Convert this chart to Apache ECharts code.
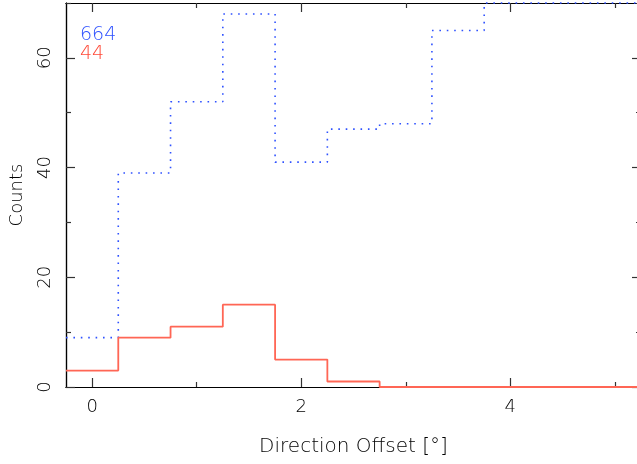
<!DOCTYPE html>
<html>
<head>
<meta charset="utf-8">
<script src="https://cdn.jsdelivr.net/npm/echarts@6/dist/echarts.min.js"></script>
<style>
html, body { margin: 0; padding: 0; background: #fff; }
#chart { width: 637px; height: 464px; }
</style>
</head>
<body>
<div id="chart"></div>
<script>
// left edges of the 0.5-wide bins, the last edge closes the histogram
const binEdges = [-0.25, 0.25, 0.75, 1.25, 1.75, 2.25, 2.75, 3.25, 3.75, 4.25, 4.75, 5.25];
const allCounts = [9, 39, 52, 68, 41, 47, 48, 65, 70, 70, 70];
const selCounts = [3, 9, 11, 15, 5, 1, 0, 0, 0, 0, 0];
const totals = ['664', '44'];
const xMajor = [0, 2, 4];
const xMinor = [1, 3, 5];
const yMajor = [0, 20, 40, 60];
const yMinor = [10, 30, 50, 70];

const blue = '#2f52ff';
const red = '#ff4a38';
const font = 'DejaVu Sans';
const textColor = '#000';

function steps(counts) {
    let pts = counts.map((c, i) => [binEdges[i], c]);
    pts.push([binEdges[binEdges.length - 1], counts[counts.length - 1]]);
    return pts;
}

// one axis = frame line + a set of inward ticks
function axis(pos, range, ticks, len, extra) {
    return Object.assign({
        type: 'value',
        position: pos,
        min: range[0],
        max: range[1],
        axisLine: { show: true, onZero: false, lineStyle: { color: '#000', width: 1.2 } },
        axisTick: { show: true, inside: true, length: len, customValues: ticks, lineStyle: { color: '#333', width: 1.2 } },
        axisLabel: { show: false },
        splitLine: { show: false }
    }, extra || {});
}

const xRange = [-0.25, 5.25];
const yRange = [0, 70];

let chart = echarts.init(document.getElementById('chart'));
chart.setOption({
    animation: false,
    grid: { left: 66, right: -4, top: 3, bottom: 77, containLabel: false, outerBoundsMode: 'none' },
    xAxis: [
        axis('bottom', xRange, xMajor, 9, {
            name: 'Direction Offset [°]',
            nameLocation: 'middle',
            nameGap: 50,
            nameTextStyle: { fontFamily: font, fontSize: 20, fontWeight: 200, color: textColor },
            axisLabel: { show: true, customValues: xMajor, fontFamily: font, fontSize: 18, fontWeight: 200, color: textColor, margin: 11 }
        }),
        axis('bottom', xRange, xMinor, 5),
        axis('top', xRange, xMajor, 9),
        axis('top', xRange, xMinor, 5)
    ],
    yAxis: [
        axis('left', yRange, yMajor, 9, {
            name: 'Counts',
            nameLocation: 'middle',
            nameRotate: 90,
            nameGap: 40,
            nameTextStyle: { fontFamily: font, fontSize: 18, fontWeight: 200, color: textColor },
            axisLabel: { show: true, customValues: yMajor, rotate: 90, fontFamily: font, fontSize: 18, fontWeight: 200, color: textColor, margin: 12 }
        }),
        axis('left', yRange, yMinor, 5),
        axis('right', yRange, yMajor, 9),
        axis('right', yRange, yMinor, 5)
    ],
    series: [
        {
            type: 'line',
            step: 'end',
            symbol: 'none',
            clip: false,
            data: steps(allCounts),
            lineStyle: { color: blue, width: 1.6, type: [1.6, 5.8] }
        },
        {
            type: 'line',
            step: 'end',
            symbol: 'none',
            clip: false,
            data: steps(selCounts),
            lineStyle: { color: '#ff6655', width: 1.8 }
        }
    ],
    graphic: [
        { type: 'text', left: 80, top: 26, style: { text: totals[0], fill: blue, font: '200 19px "DejaVu Sans"' } },
        { type: 'text', left: 80, top: 45, style: { text: totals[1], fill: red, font: '200 19px "DejaVu Sans"' } }
    ]
});
</script>
</body>
</html>
